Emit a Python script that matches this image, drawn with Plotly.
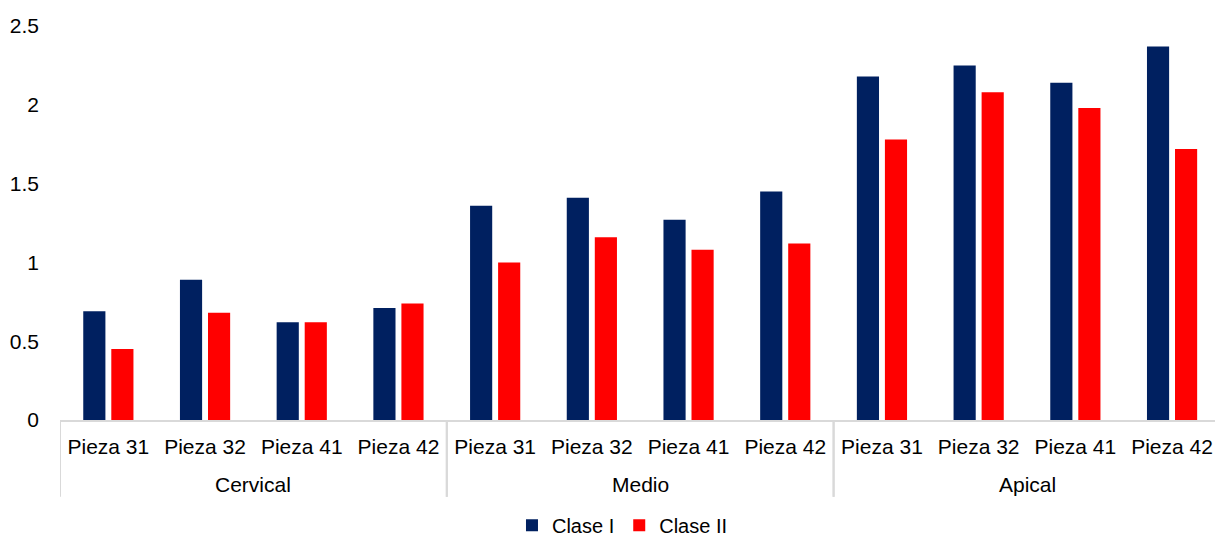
import plotly.graph_objects as go

# Region of the root and tooth number for each bar pair
regiones = ["Cervical"] * 4 + ["Medio"] * 4 + ["Apical"] * 4
piezas = ["Pieza 31", "Pieza 32", "Pieza 41", "Pieza 42"] * 3
grupos = ["Cervical", "Medio", "Apical"]

clase_i = [0.69, 0.89, 0.62, 0.71,
           1.36, 1.41, 1.27, 1.45,
           2.18, 2.25, 2.14, 2.37]
clase_ii = [0.45, 0.68, 0.62, 0.74,
            1.00, 1.16, 1.08, 1.12,
            1.78, 2.08, 1.98, 1.72]

y_ticks = [0, 0.5, 1, 1.5, 2, 2.5]
y_labels = ["0", "0.5", "1", "1.5", "2", "2.5"]

FONT = "Liberation Sans, Arial, sans-serif"
GRIS = "#d9d9d9"

# unique category key per bar pair; the axis shows only the tooth label
claves = [f"{r}|{p}" for r, p in zip(regiones, piezas)]

fig = go.Figure()
fig.add_trace(go.Bar(x=claves, y=clase_i, name="Clase I",
                     marker=dict(color="#002060", line=dict(width=0))))
fig.add_trace(go.Bar(x=claves, y=clase_ii, name="Clase II",
                     marker=dict(color="#FF0000", line=dict(width=0))))

# group labels and separators below the axis
inicio = 0
for g in grupos:
    n = regiones.count(g)
    centro = inicio + (n - 1) / 2
    fig.add_annotation(x=centro, xref="x", y=0, yref="paper", yshift=-64,
                       text=g, showarrow=False, yanchor="middle",
                       font=dict(size=21, family=FONT, color="#000000"))
    for borde in (inicio - 0.5, inicio + n - 0.5):
        fig.add_shape(type="line", xref="x", yref="paper",
                      x0=borde, x1=borde, y0=0, y1=-0.195,
                      line=dict(color=GRIS, width=2))
    inicio += n

fig.update_layout(
    width=1215, height=537,
    margin=dict(l=60, r=0, t=26, b=117, autoexpand=False),
    paper_bgcolor="white", plot_bgcolor="white",
    barmode="group", bargap=0.42, bargroupgap=0.21,
    font=dict(family=FONT, size=21, color="#000000"),
    showlegend=True,
    legend=dict(orientation="h", x=0.487, xanchor="center",
                yref="container", y=0.022, yanchor="middle",
                font=dict(size=20), traceorder="normal"),
)
fig.update_xaxes(
    type="category", range=[-0.5, 11.444],
    tickvals=claves, ticktext=piezas,
    showline=True, linecolor=GRIS, linewidth=2,
    showgrid=False, ticks="", automargin=False,
    ticklabelstandoff=7, tickfont=dict(size=21, family=FONT),
)
fig.update_yaxes(
    range=[0, 2.5], tickvals=y_ticks, ticktext=y_labels,
    showgrid=False, zeroline=False, showline=False, ticks="",
    automargin=False,
    ticklabelstandoff=20, tickfont=dict(size=21, family=FONT),
)

fig.write_html("out.html")
